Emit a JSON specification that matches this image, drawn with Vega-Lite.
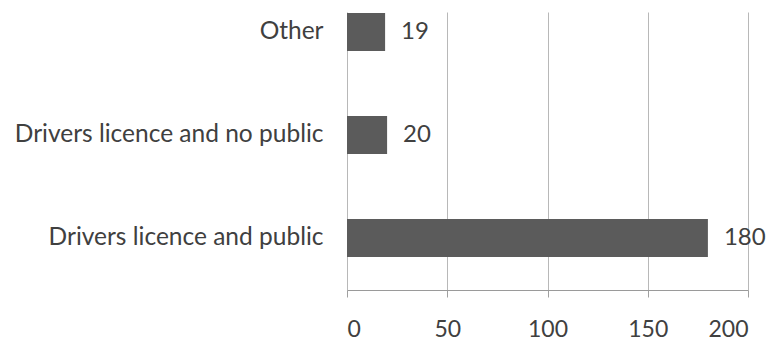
{
  "$schema": "https://vega.github.io/schema/vega-lite/v6.json",
  "autosize": "none",
  "width": 401,
  "height": 278,
  "padding": {"left": 347, "top": 12, "right": 27, "bottom": 53},
  "background": "white",
  "config": {
    "view": {"stroke": null},
    "font": "Lato",
    "axis": {"labelFont": "Lato", "labelColor": "#404040"}
  },
  "data": {
    "values": [
      {"category": "Other", "count": 19},
      {"category": "Drivers licence and no public", "count": 20},
      {"category": "Drivers licence and public", "count": 180}
    ]
  },
  "encoding": {
    "y": {
      "field": "category",
      "type": "nominal",
      "sort": ["Other", "Drivers licence and no public", "Drivers licence and public"],
      "scale": {"paddingInner": 0.63, "paddingOuter": 0.165, "align": 0.03},
      "axis": {
        "title": null,
        "domain": false,
        "ticks": false,
        "labelFontSize": 24.5,
        "labelPadding": 24,
        "labelLimit": 400
      }
    },
    "x": {
      "field": "count",
      "type": "quantitative",
      "scale": {"domain": [0, 200], "nice": false},
      "axis": {
        "title": null,
        "values": [0, 50, 100, 150, 200],
        "grid": true,
        "gridColor": "#b8b8b8",
        "gridWidth": 1,
        "domainColor": "#9a9a9a",
        "tickColor": "#a0a0a0",
        "tickSize": 7,
        "labelFontSize": 23,
        "labelPadding": 21
      }
    }
  },
  "layer": [
    {"mark": {"type": "bar", "color": "#5b5b5b"}},
    {
      "mark": {"type": "text", "align": "left", "dx": 16, "fontSize": 24, "color": "#404040"},
      "encoding": {"text": {"field": "count", "type": "quantitative"}}
    }
  ]
}
